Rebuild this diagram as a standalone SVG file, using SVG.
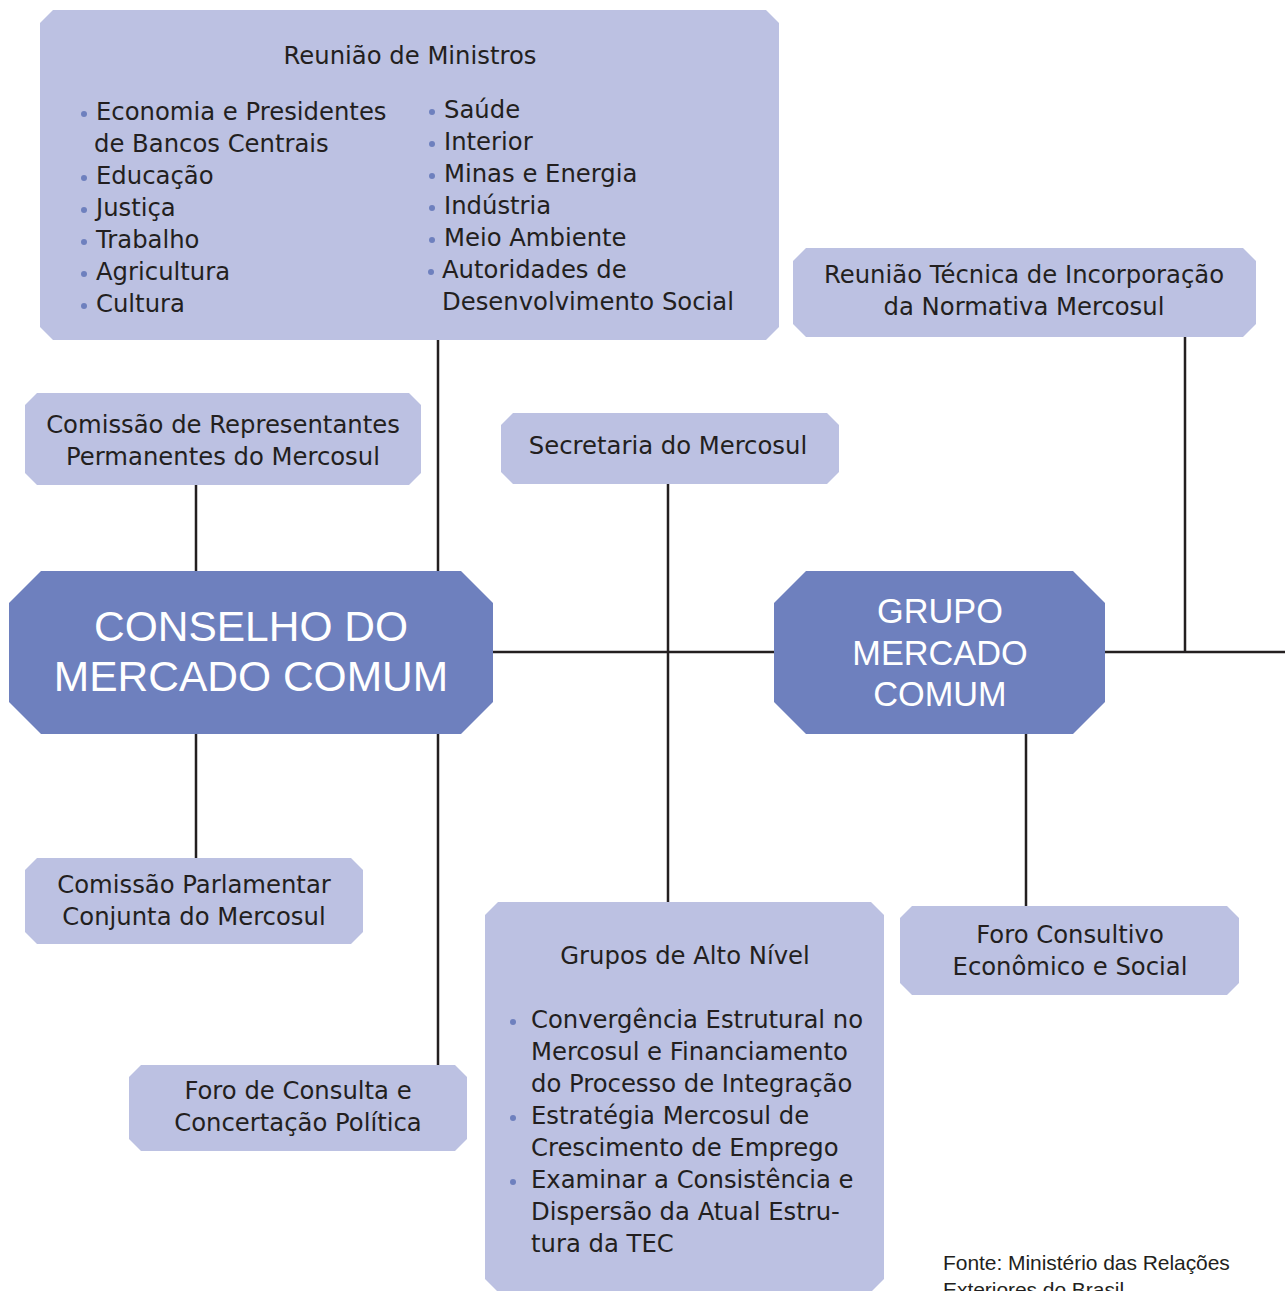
<svg xmlns="http://www.w3.org/2000/svg" width="1285" height="1291" viewBox="0 0 1285 1291">
<style>
.lt{fill:#BCC1E2}
.dk{fill:#6E80BE}
.t{font-family:"DejaVu Sans","Liberation Sans",sans-serif;font-size:24.3px;fill:#231F20}
.c{text-anchor:middle}
.w{font-family:"Liberation Sans",Arial,sans-serif;fill:#FFFFFF;text-anchor:middle}
.b{fill:#6E80BE}
.ln{stroke:#231F20;stroke-width:2.5;fill:none}
.f{font-family:"Liberation Sans",Arial,sans-serif;font-size:21px;fill:#231F20;letter-spacing:-0.05px}
</style>
<rect width="1285" height="1291" fill="#FFFFFF"/>
<g id="connectors">
<path class="ln" d="M438 340V571M438 734V1065M196 485V571M196 734V858M493 652H774M1105 652H1285M668 484V902M1185 337V652M1026 734V906"/>
</g>
<g id="ministros">
<polygon class="lt" points="53,10 766,10 779,23 779,327 766,340 53,340 40,327 40,23"/>
<text class="t c" x="410" y="64">Reunião de Ministros</text>
<g class="b"><circle cx="84" cy="114" r="3"/><circle cx="84" cy="178" r="3"/><circle cx="84" cy="210" r="3"/><circle cx="84" cy="242" r="3"/><circle cx="84" cy="274" r="3"/><circle cx="84" cy="306" r="3"/>
<circle cx="432" cy="112" r="3"/><circle cx="432" cy="144" r="3"/><circle cx="432" cy="176" r="3"/><circle cx="432" cy="208" r="3"/><circle cx="432" cy="240" r="3"/><circle cx="431" cy="272" r="3"/></g>
<text class="t" x="96" y="120">Economia e Presidentes</text>
<text class="t" x="94" y="152">de Bancos Centrais</text>
<text class="t" x="96" y="184">Educação</text>
<text class="t" x="96" y="216">Justiça</text>
<text class="t" x="96" y="248">Trabalho</text>
<text class="t" x="96" y="280">Agricultura</text>
<text class="t" x="96" y="312">Cultura</text>
<text class="t" x="444" y="118">Saúde</text>
<text class="t" x="444" y="150">Interior</text>
<text class="t" x="444" y="182">Minas e Energia</text>
<text class="t" x="444" y="214">Indústria</text>
<text class="t" x="444" y="246">Meio Ambiente</text>
<text class="t" x="442" y="278">Autoridades de</text>
<text class="t" x="442" y="310">Desenvolvimento Social</text>
</g>
<g id="tecnica">
<polygon class="lt" points="806,248 1243,248 1256,261 1256,324 1243,337 806,337 793,324 793,261"/>
<text class="t c" x="1024" y="283">Reunião Técnica de Incorporação</text>
<text class="t c" x="1024" y="315">da Normativa Mercosul</text>
</g>
<g id="representantes">
<polygon class="lt" points="37,393 409,393 421,405 421,473 409,485 37,485 25,473 25,405"/>
<text class="t c" x="223" y="433">Comissão de Representantes</text>
<text class="t c" x="223" y="465">Permanentes do Mercosul</text>
</g>
<g id="secretaria">
<polygon class="lt" points="513,413 827,413 839,425 839,472 827,484 513,484 501,472 501,425"/>
<text class="t c" x="668" y="454">Secretaria do Mercosul</text>
</g>
<g id="cmc">
<polygon class="dk" points="41,571 461,571 493,603 493,702 461,734 41,734 9,702 9,603"/>
<text class="w" x="251" y="641" font-size="42.5">CONSELHO DO</text>
<text class="w" x="251" y="691" font-size="42.5">MERCADO COMUM</text>
</g>
<g id="gmc">
<polygon class="dk" points="806,571 1073,571 1105,603 1105,702 1073,734 806,734 774,702 774,603"/>
<text class="w" x="940" y="623" font-size="34.3">GRUPO</text>
<text class="w" x="940" y="665" font-size="34.3">MERCADO</text>
<text class="w" x="940" y="706" font-size="34.3">COMUM</text>
</g>
<g id="parlamentar">
<polygon class="lt" points="37,858 351,858 363,870 363,932 351,944 37,944 25,932 25,870"/>
<text class="t c" x="194" y="893">Comissão Parlamentar</text>
<text class="t c" x="194" y="925">Conjunta do Mercosul</text>
</g>
<g id="foro-consulta">
<polygon class="lt" points="141,1065 455,1065 467,1077 467,1139 455,1151 141,1151 129,1139 129,1077"/>
<text class="t c" x="298" y="1099">Foro de Consulta e</text>
<text class="t c" x="298" y="1131">Concertação Política</text>
</g>
<g id="foro-consultivo">
<polygon class="lt" points="912,906 1227,906 1239,918 1239,983 1227,995 912,995 900,983 900,918"/>
<text class="t c" x="1070" y="943">Foro Consultivo</text>
<text class="t c" x="1070" y="975">Econômico e Social</text>
</g>
<g id="alto-nivel">
<polygon class="lt" points="498,902 871,902 884,915 884,1279 871,1292 498,1292 485,1279 485,915"/>
<text class="t c" x="685" y="964">Grupos de Alto Nível</text>
<g class="b"><circle cx="513" cy="1022" r="3"/><circle cx="513" cy="1118" r="3"/><circle cx="513" cy="1182" r="3"/></g>
<text class="t" x="531" y="1028">Convergência Estrutural no</text>
<text class="t" x="531" y="1060">Mercosul e Financiamento</text>
<text class="t" x="531" y="1092">do Processo de Integração</text>
<text class="t" x="531" y="1124">Estratégia Mercosul de</text>
<text class="t" x="531" y="1156">Crescimento de Emprego</text>
<text class="t" x="531" y="1188">Examinar a Consistência e</text>
<text class="t" x="531" y="1220">Dispersão da Atual Estru-</text>
<text class="t" x="531" y="1252">tura da TEC</text>
</g>
<g id="fonte">
<text class="f" x="943" y="1270">Fonte: Ministério das Relações</text>
<text class="f" x="943" y="1297">Exteriores do Brasil</text>
</g>
</svg>
